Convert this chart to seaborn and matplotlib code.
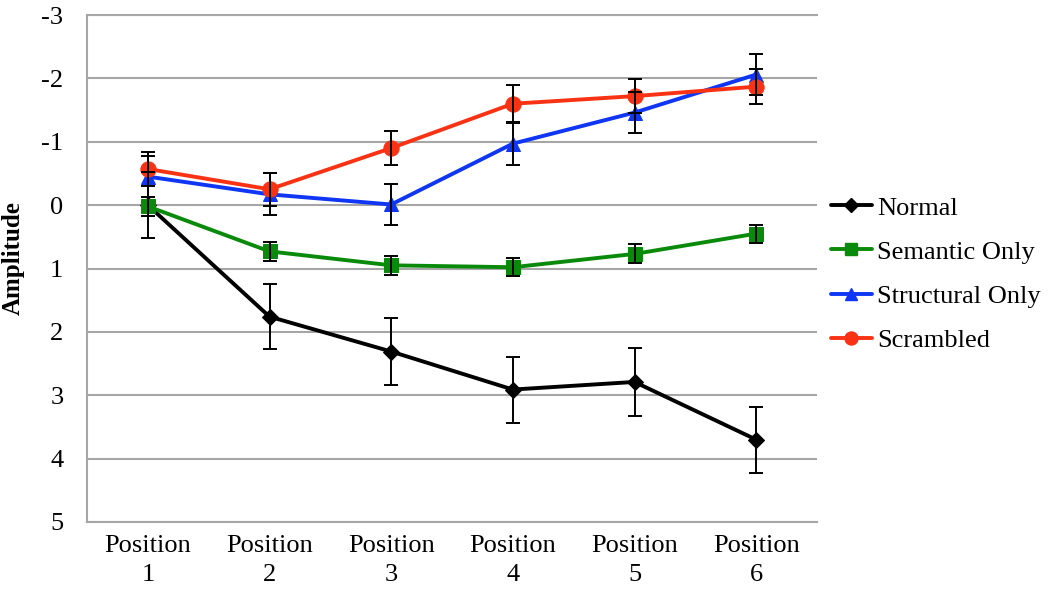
import pandas as pd
import seaborn as sns
import matplotlib.pyplot as plt
from matplotlib.lines import Line2D

## data
positions = ["Position\n1", "Position\n2", "Position\n3", "Position\n4", "Position\n5", "Position\n6"]
conditions = ["Normal", "Semantic Only", "Structural Only", "Scrambled"]
normal = [0.0, 1.76, 2.31, 2.91, 2.79, 3.70]
semantic = [0.02, 0.73, 0.95, 0.98, 0.77, 0.45]
structural = [-0.45, -0.17, -0.01, -0.97, -1.46, -2.06]
scrambled = [-0.57, -0.25, -0.90, -1.60, -1.72, -1.87]
normal_err = [0.52, 0.51, 0.53, 0.52, 0.53, 0.52]
semantic_err = [0.15, 0.15, 0.15, 0.14, 0.15, 0.14]
structural_err = [0.32, 0.33, 0.32, 0.33, 0.32, 0.32]
scrambled_err = [0.27, 0.26, 0.27, 0.29, 0.27, 0.28]
yticks = [-3, -2, -1, 0, 1, 2, 3, 4, 5]

values = [normal, semantic, structural, scrambled]
errors = [normal_err, semantic_err, structural_err, scrambled_err]
colors = ["#000000", "#0a8a0a", "#0f35f5", "#fa3214"]
marks = ["D", "s", "^", "o"]
msizes = [8, 10, 10, 11]

df = pd.DataFrame({
    "x": list(range(len(positions))) * len(conditions),
    "amp": normal + semantic + structural + scrambled,
    "cond": [c for c in conditions for _ in positions],
})

sns.set_style("white")
plt.rcParams["font.family"] = ["Liberation Serif", "DejaVu Serif"]
plt.rcParams["axes.unicode_minus"] = False
plt.rcParams["text.color"] = "black"
plt.rcParams["xtick.labelcolor"] = "black"
plt.rcParams["ytick.labelcolor"] = "black"

fig = plt.figure(figsize=(10.5, 5.96), dpi=100)
ax = fig.add_axes([87 / 1050, 74 / 596, 730 / 1050, 507 / 596])

## lines + markers through seaborn, one call per series so markers can differ in size
for cond, col, m, ms in zip(conditions, colors, marks, msizes):
    sns.lineplot(data=df[df.cond == cond], x="x", y="amp", color=col, marker=m,
                 markersize=ms, markeredgecolor=col, linewidth=2.8, sort=False,
                 legend=False, ax=ax, zorder=3)

## error bars on top
for vals, errs in zip(values, errors):
    ax.errorbar(range(len(positions)), vals, yerr=errs, fmt="none", ecolor="black",
                elinewidth=1.4, capsize=5, capthick=1.4, zorder=5)

ax.set_xlim(-0.5, len(positions) - 0.5)
ax.set_ylim(5, -3)
ax.set_yticks(yticks)
ax.set_yticklabels([str(t) for t in yticks], fontsize=19)
ax.set_xticks(range(len(positions)))
ax.set_xticklabels(positions, fontsize=19, linespacing=1.45)
ax.set_xticks([i + 0.5 for i in range(len(positions) - 1)], minor=True)
ax.tick_params(axis="x", which="major", length=0, pad=9)
ax.tick_params(axis="x", which="minor", length=8, width=1.2, color="#a6a6a6", direction="out")
ax.tick_params(axis="y", length=7, width=1.2, color="#a6a6a6", direction="out", pad=10)

ax.yaxis.grid(True, color="#a6a6a6", linewidth=1.5)
ax.xaxis.grid(False)
for s in ["left", "bottom", "top"]:
    ax.spines[s].set_color("#a6a6a6")
    ax.spines[s].set_linewidth(1.5)
ax.spines["right"].set_visible(False)

ax.set_xlabel("")
ax.set_ylabel("")
fig.text(13 / 1050, 1 - 258 / 596, "Amplitude", rotation=90, ha="center", va="center",
         fontsize=18, fontweight="bold", color="black")

handles = [Line2D([0], [0], color=c, marker=m, markersize=ms * 0.85, linewidth=2.8)
           for c, m, ms in zip(colors, marks, msizes)]
fig.legend(handles, conditions, loc="center left", bbox_to_anchor=(831 / 1050, 1 - 274 / 596),
           frameon=False, fontsize=19, handlelength=1.55, handletextpad=0.2,
           labelspacing=0.78, borderpad=0, borderaxespad=0)

plt.savefig("out.png", dpi=100)
